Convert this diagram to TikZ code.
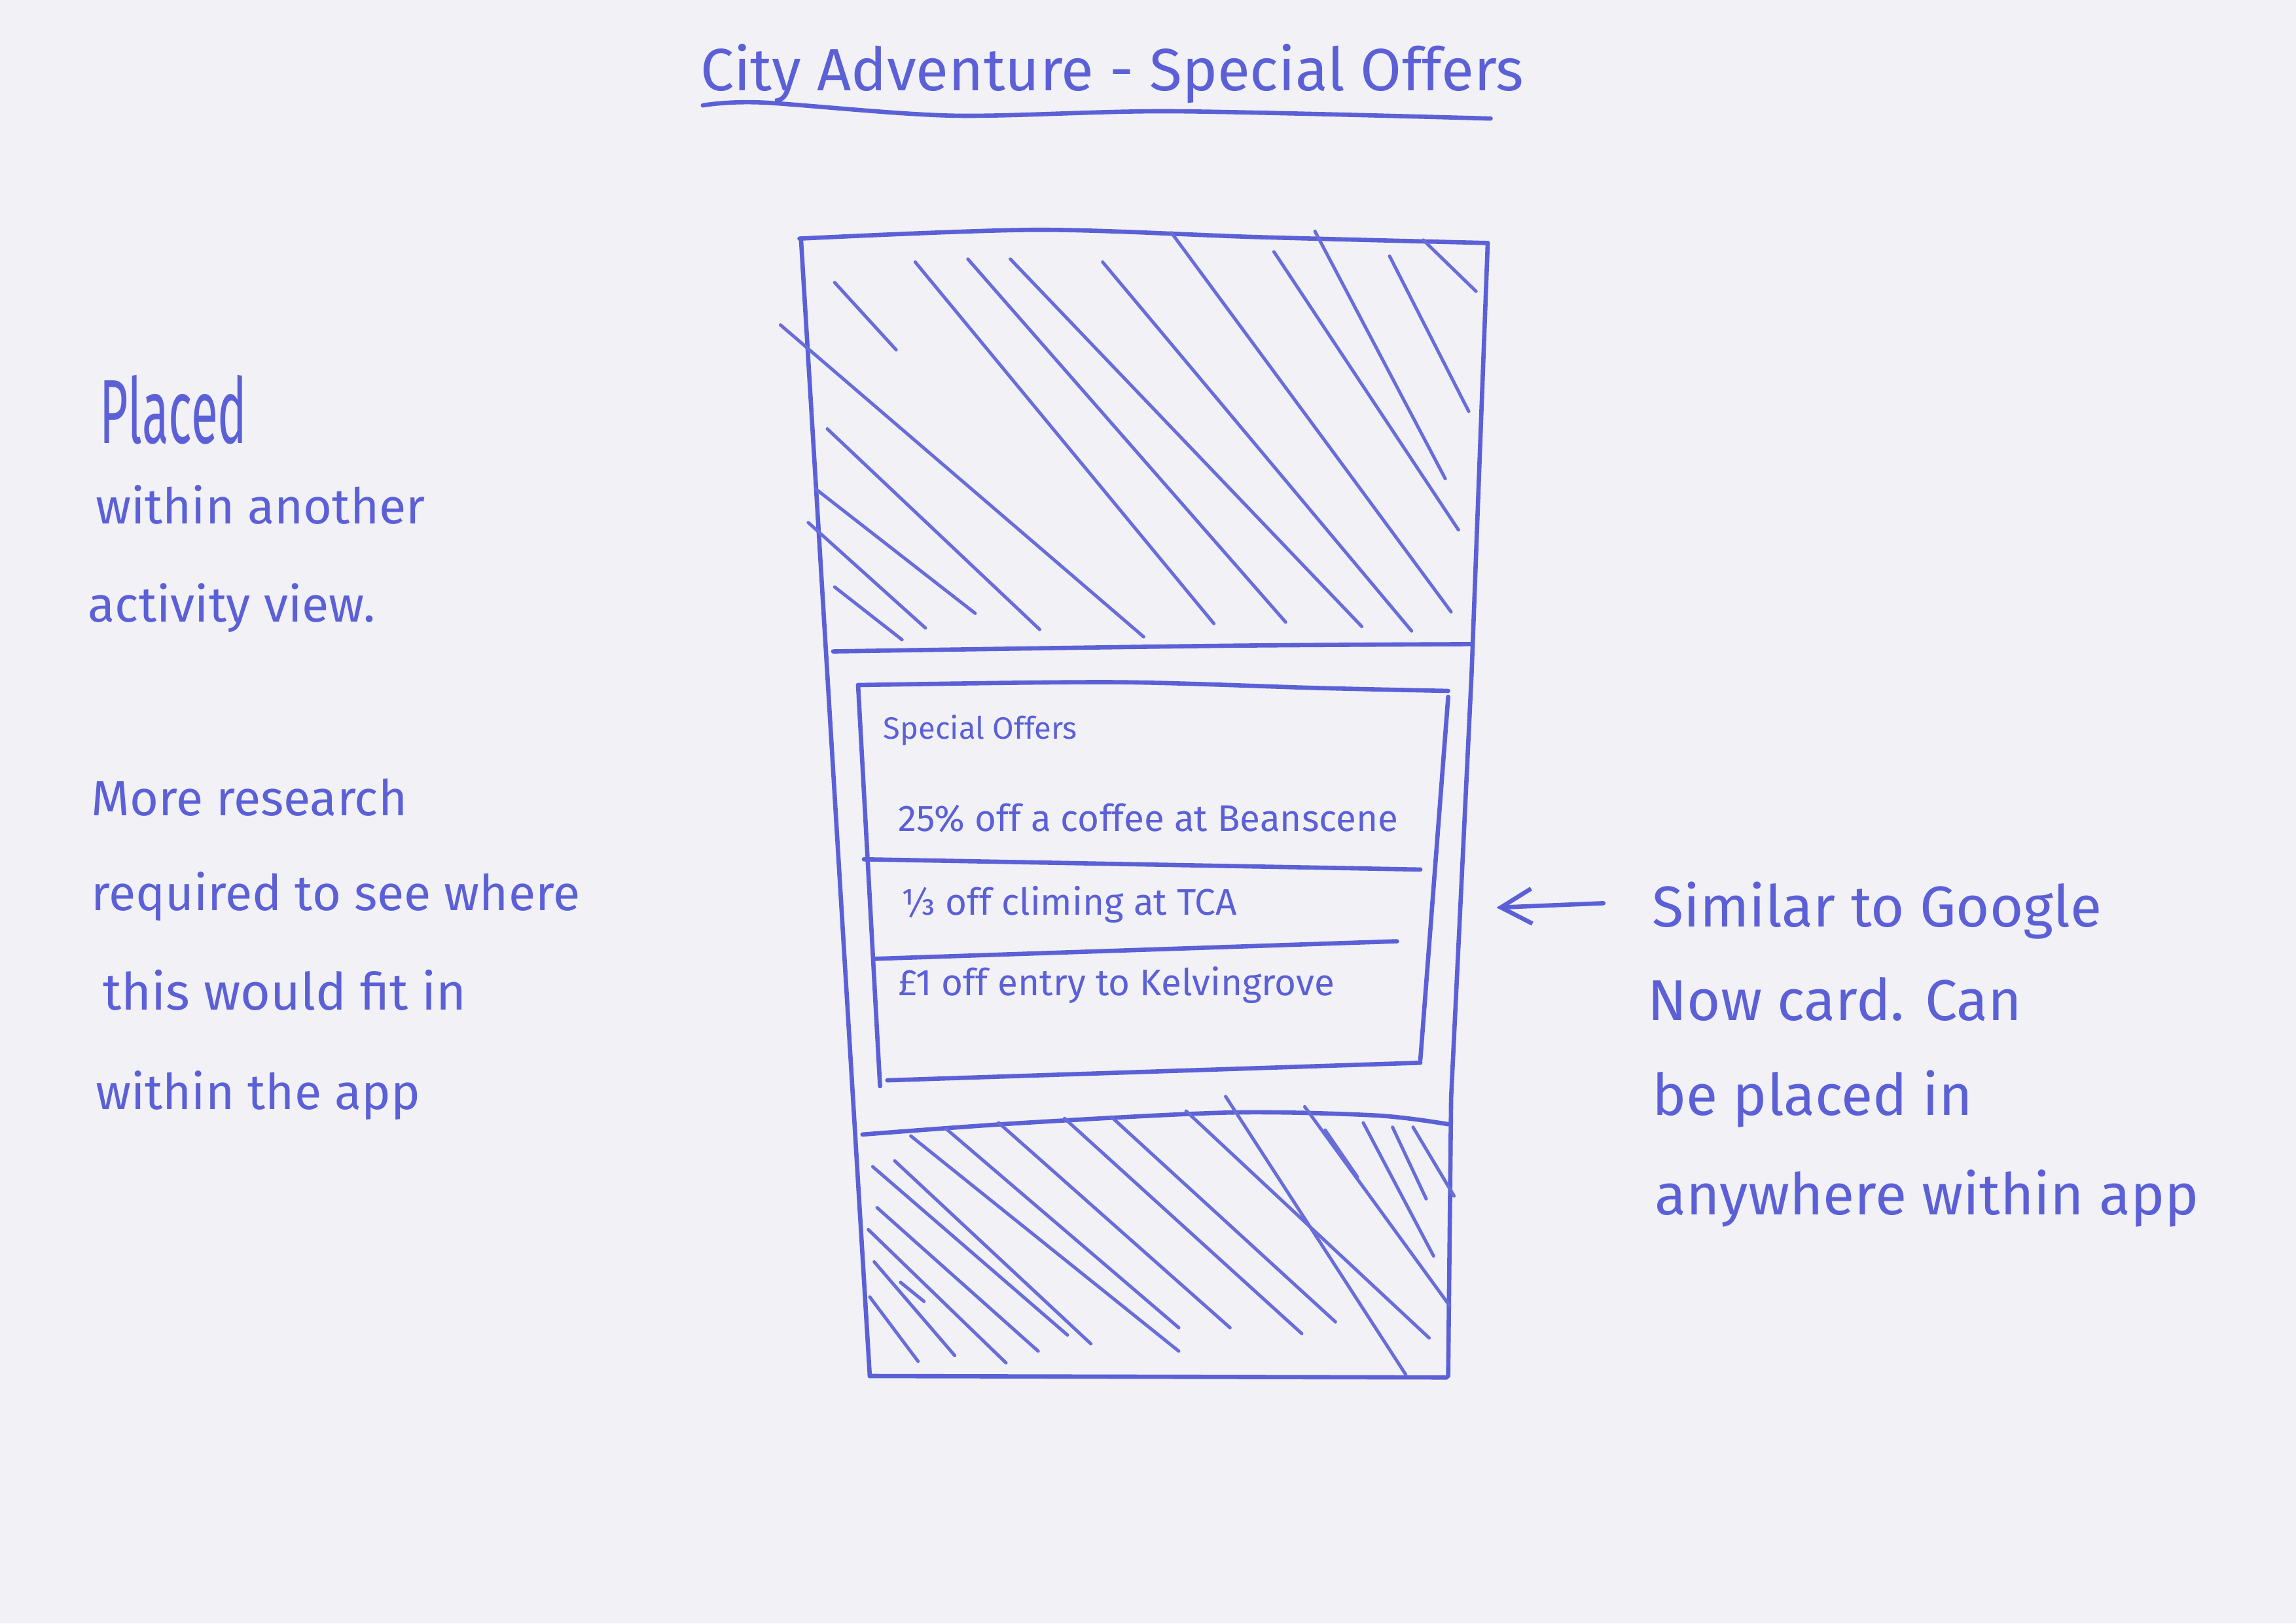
\documentclass[tikz,border=0pt]{standalone}
\usepackage{fontspec}
\setmainfont{Fira Sans}
\usetikzlibrary{arrows.meta}
\definecolor{ink}{RGB}{92,96,214}
\definecolor{paper}{RGB}{241,241,246}

\begin{document}
\begin{tikzpicture}[x=0.025cm,y=-0.025cm,
  pen/.style={draw=ink,line width=2.1pt,line cap=round,line join=round},
  hatch/.style={draw=ink!92,line width=1.6pt,line cap=round},
  note/.style={text=ink,anchor=base west,inner sep=0pt,font=\fontsize{24}{28}\selectfont},
  sidenote/.style={note,font=\fontsize{28}{32}\selectfont},
  offer/.style={note,font=\fontsize{18}{21}\selectfont}]
\fill[paper] (0,0) rectangle (1568,1109);
\node[note,font=\fontsize{29}{34}\selectfont] (title) at (478,62) {City Adventure - Special Offers};
\draw[pen] plot[smooth] coordinates {(480,72) (520,70) (650,79) (800,76) (1018,81)};
\draw[pen] plot[smooth] coordinates {(546,163) (708,157) (860,162) (1016,166)};
\draw[pen] (547,163) -- (594,940);
\draw[pen] (1016,166) -- (1005,460) -- (991,750) -- (989,940);
\draw[pen] (594,940) -- (988,941);
\draw[pen] plot[smooth] coordinates {(569,445) (700,443) (850,441) (1004,440)};
\draw[pen] plot[smooth] coordinates {(589,775) (700,767) (840,760) (940,762) (989,768)};
\foreach \xa/\ya/\xb/\yb in {570/193/612/239, 570/401/616/437, 552/357/632/429,
  557/334/666/419, 565/293/710/430, 533/222/781/435, 625/179/829/426,
  661/177/878/425, 690/177/930/428, 753/179/964/431, 800/159/991/418,
  870/172/996/362, 898/158/987/327, 949/175/1003/281, 972/164/1008/199}
  \draw[hatch] (\xa,\ya) -- (\xb,\yb);
\foreach \xa/\ya/\xb/\yb in {596/797/729/912, 611/793/745/918, 622/776/805/923,
  646/771/805/907, 682/767/840/907, 727/764/889/911, 759/763/912/903,
  810/759/976/914, 837/749/960/939, 891/756/990/892, 905/772/927/804,
  931/767/979/858, 951/770/974/819, 965/770/993/817, 599/825/709/923,
  593/840/687/931, 597/862/652/926, 594/886/627/930, 615/876/631/889}
  \draw[hatch] (\xa,\ya) -- (\xb,\yb);
\draw[pen] plot[smooth] coordinates {(586,468) (760,466) (900,470) (989,472)};
\draw[pen] (989,476) -- (970,724);
\draw[pen] (606,738) -- (970,726);
\draw[pen] (586,468) -- (601,742);
\draw[pen] (590,587) -- (970,594);
\draw[pen] (597,655) -- (954,643);
\node[note,font=\fontsize{15}{18}\selectfont] (cardhead) at (603,505) {Special Offers};
\node[offer] (offera) at (613,568) {25\% off a coffee at Beanscene};
\node[offer] (offerb) at (615,625) {⅓ off climing at TCA};
\node[offer] (offerc) at (613,680) {£1 off entry to Kelvingrove};
\node[note,font=\fontsize{34}{40}\selectfont] (placed) at (68,303) {\scalebox{0.7}[1.3]{Placed}};
\node[note] (within) at (65,358) {within another};
\node[note] (activity) at (60,425) {activity view.};
\node[note] (more) at (62,557) {More research};
\node[note] (required) at (62,622) {required to see where};
\node[note,font=\fontsize{25}{30}\selectfont] (this) at (70,690) {this would fit in};
\node[note] (withinapp) at (65,758) {within the app};
\node[sidenote] (similar) at (1128,633) {Similar to Google};
\node[sidenote] (nowcard) at (1125,697) {Now card. Can};
\node[sidenote] (beplaced) at (1128,762) {be placed in};
\node[sidenote] (anywhere) at (1130,830) {anywhere within app};
\coordinate (arrowtail) at (1095,617);
\coordinate (arrowtip) at (1022,620);
\draw[pen,-{Straight Barb[length=15pt,width=17pt]}] (arrowtail) -- (arrowtip);
\end{tikzpicture}
\end{document}
